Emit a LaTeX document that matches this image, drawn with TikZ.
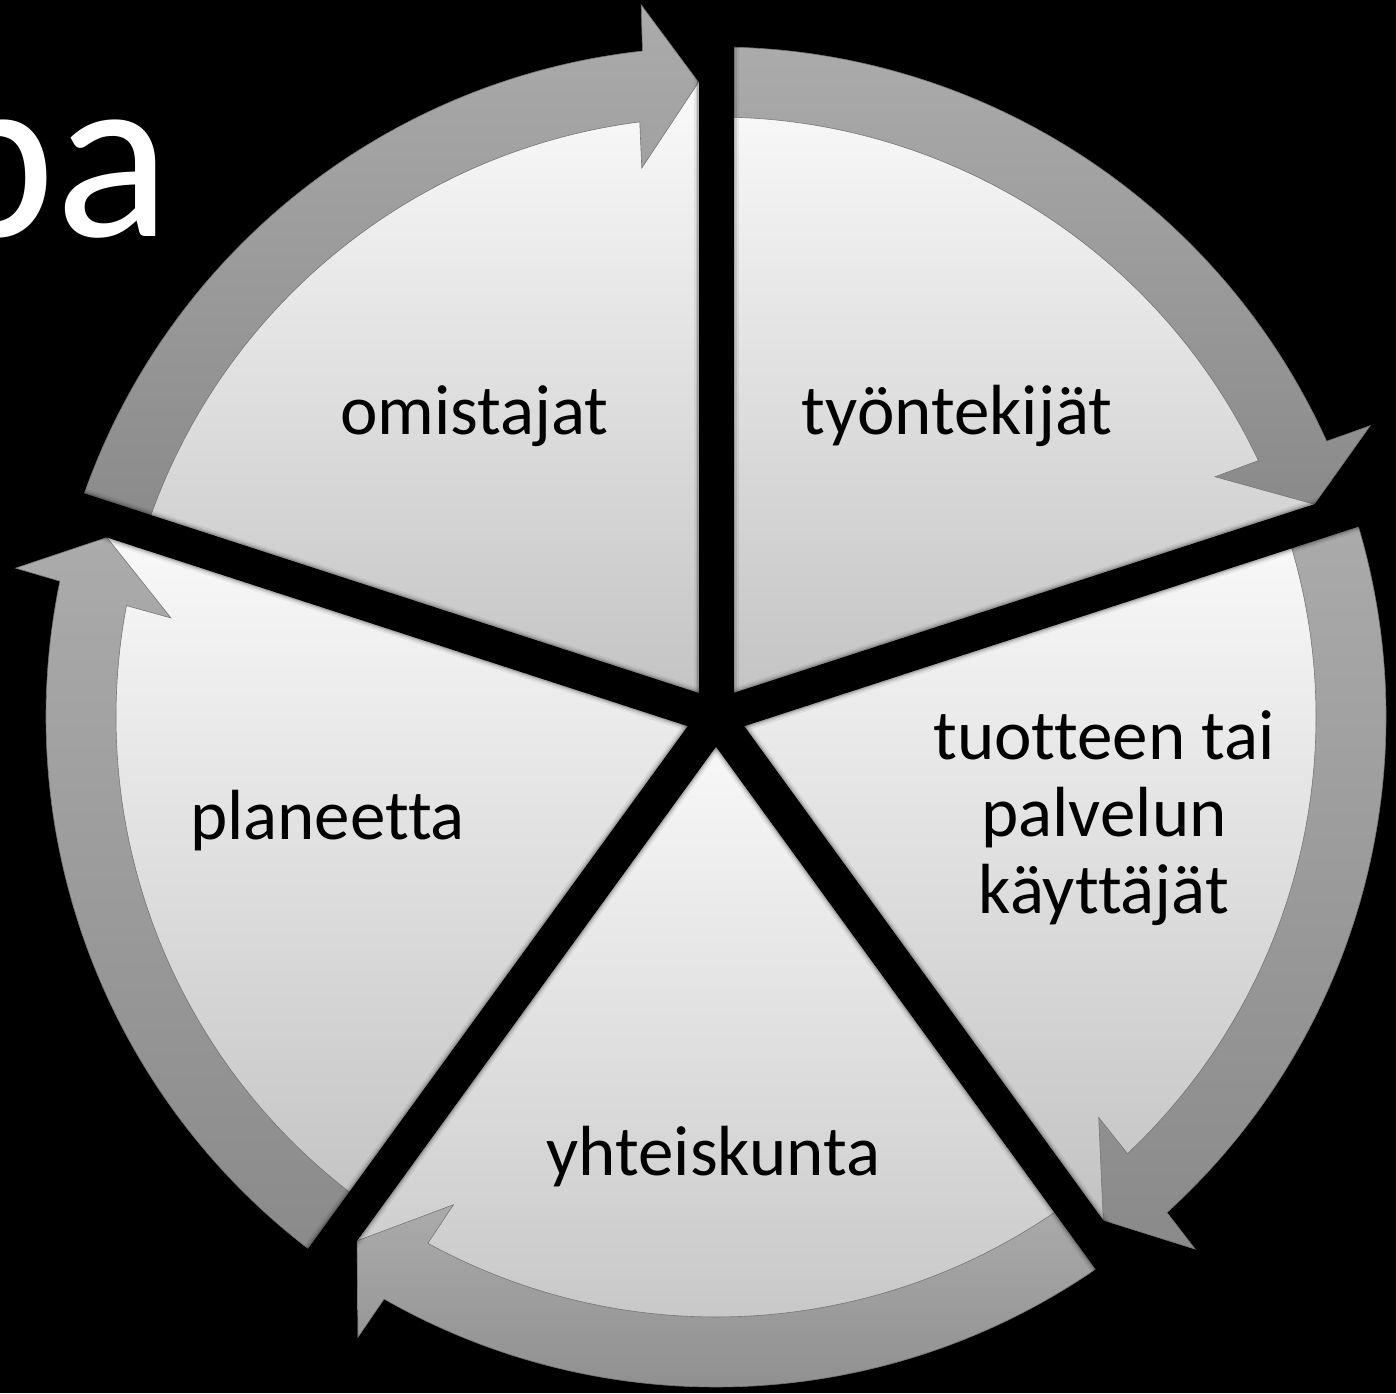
\documentclass[tikz,border=0pt]{standalone}
\usepackage{fontspec}
\setmainfont[Ligatures={NoCommon}]{Carlito}
\definecolor{wtop}{HTML}{FAFAFA}
\definecolor{wbot}{HTML}{C2C2C2}
\definecolor{atop}{HTML}{ABABAB}
\definecolor{abot}{HTML}{8A8A8A}
\definecolor{aedge}{HTML}{777777}
\tikzset{
  wedge/.style={top color=wtop, bottom color=wbot},
  ringarrow/.style={top color=atop, bottom color=abot, draw=aedge, line width=0.6},
  gapband/.style={line width=35, black},
  label/.style={inner sep=0pt, text=black, font=\fontsize{71}{77}\selectfont},
  title/.style={inner sep=0pt, text=white, font=\fontsize{240}{260}\selectfont}
}
\begin{document}
\begin{tikzpicture}[x=1pt,y=1pt]
\fill[black] (0,0) rectangle (1396,1393);
\useasboundingbox (0,0) rectangle (1396,1393);
\node[title, anchor=base east] (title) at (171,1156) {pa};
\begin{scope}[shift={(716,676)}]
  % pie wedges
  \foreach \b in {90,18,-54,-126,-198}{
    \shade[wedge] (0,0) -- (\b:635) arc[start angle=\b, end angle=\b-72, radius=635] -- cycle;
  }
  % circular arrows
  \foreach \b in {90,18,-54,-126,-198}{
    \pgfmathsetmacro\n{\b-72}
    \shade[ringarrow] (\b:670) arc[start angle=\b, end angle=\n+6.3, radius=670]
      -- (\n+6:716) -- (\n+1.58:635) -- (\n+7.7:554) -- (\n+7.3:600)
      arc[start angle=\n+7.3, end angle=\b, radius=600] -- cycle;
  }
  % gaps
  \foreach \b in {90,18,-54,-126,-198}{
    \draw[line width=45, black, opacity=0.06] (0,0) -- (\b:760);
    \draw[line width=41, black, opacity=0.1] (0,0) -- (\b:760);
    \draw[line width=38, black, opacity=0.15] (0,0) -- (\b:760);
    \draw[gapband] (0,0) -- (\b:760);
  }
\end{scope}
\node[label, anchor=base] (omistajat) at (474.5,958) {omistajat};
\node[label, anchor=base] (tyontekijat) at (957,958) {työntekijät};
\node[label, anchor=base, align=center] (kayttajat) at (1104,480) {tuotteen tai\\palvelun\\käyttäjät};
\node[label, anchor=base] (planeetta) at (327.5,553) {planeetta};
\node[label, anchor=base] (yhteiskunta) at (713.5,218) {yhteiskunta};
\end{tikzpicture}
\end{document}
